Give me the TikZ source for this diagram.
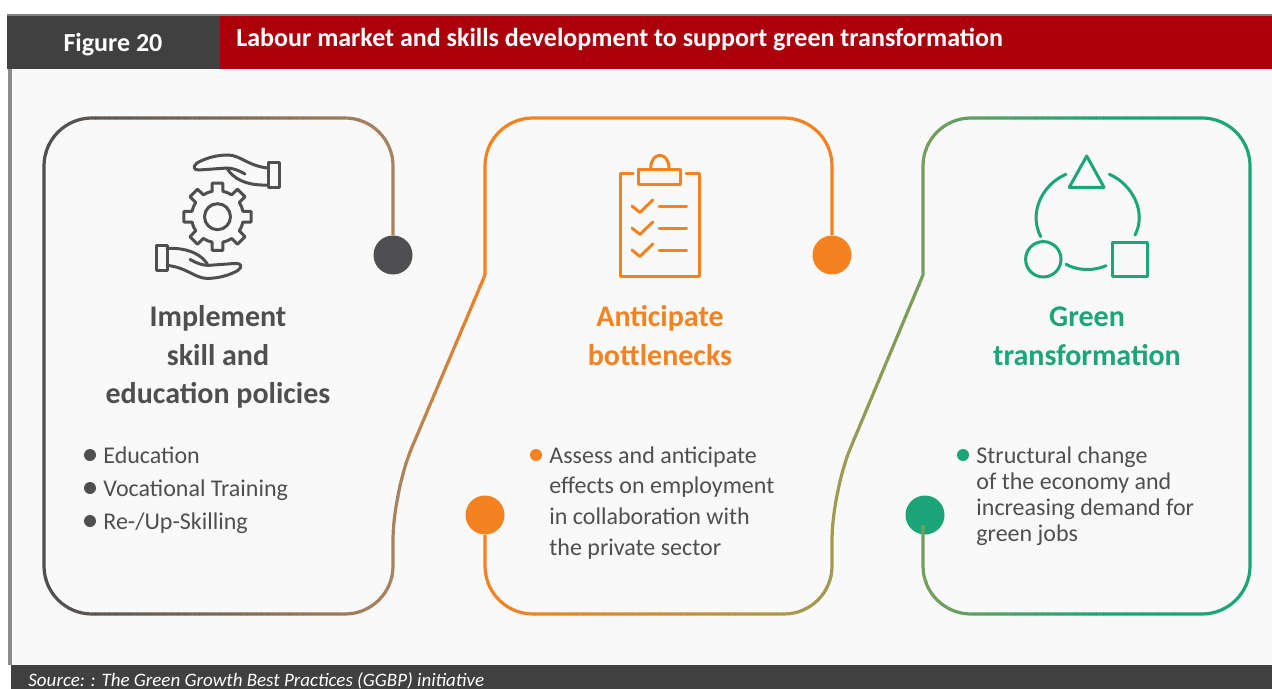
\documentclass[tikz,border=0pt]{standalone}
\usepackage{fontspec}
\setmainfont{Carlito}
\definecolor{headdark}{HTML}{404040}
\definecolor{headred}{HTML}{AB000C}
\definecolor{paper}{HTML}{F9F9F9}
\definecolor{slate}{HTML}{4F4F51}
\definecolor{tan}{HTML}{A8835F}
\definecolor{carrot}{HTML}{F58220}
\definecolor{olive}{HTML}{A29A50}
\definecolor{leaf}{HTML}{1BA578}
\tikzset{
  frameline/.style={line width=1.6pt},
  iconline/.style={line width=1.5pt,line join=round,line cap=round},
  dot/.style={circle,fill=#1,minimum size=19.5pt,inner sep=0pt},
  bullet/.style={circle,fill=#1,minimum size=6pt,inner sep=0pt},
  heading/.style={anchor=base,font=\fontsize{15}{15}\selectfont\bfseries,text=#1},
  itemtext/.style={anchor=base west,font=\fontsize{12}{12}\selectfont,text=#1},
}
\newcommand{\fadeline}[5]{%
  \foreach \s in {0,...,#5} {
    \pgfmathsetmacro{\p}{100*\s/#5}
    \pgfmathsetmacro{\xa}{#1+(#2-#1)/(#5+1)*\s}
    \pgfmathsetmacro{\xb}{#1+(#2-#1)/(#5+1)*(\s+1)+0.4}
    \begin{scope}
      \clip (\xa,100) rectangle (\xb,630);
      \draw[frameline,color=#4!\p!#3] \framepath;
    \end{scope}
  }}
\begin{document}
\begin{tikzpicture}
        [x=0.5pt,y=-0.5pt]
        \useasboundingbox (0,0) rectangle (1272,689);

        \fill[paper] (8,69) rectangle (1272,665);
        \fill[gray] (7,14) rectangle (1272,17);
        \fill[gray!90] (8,69) rectangle (12,665);
        \fill[headdark] (7,16) rectangle (220,69);
        \fill[headred] (220,16) rectangle (1272,69);
        \fill[headdark] (11,665) rectangle (1272,689);

        \node[anchor=base,text=white,font=\fontsize{13}{13}\selectfont\bfseries] (figno) at (113,52) {Figure 20};
        \node[anchor=base west,inner sep=0pt,text=white,font=\fontsize{13}{13}\selectfont\bfseries] (title) at (236,47) {Labour market and skills development to support green transformation};
        \node[anchor=base west,inner sep=0pt,text=white,font=\fontsize{9.5}{9.5}\selectfont\itshape] (source) at (28,686) {Source: : The Green Growth Best Practices (GGBP) initiative};

        \node[dot=slate] (dotA) at (393,255) {};
        \node[dot=carrot] (dotB) at (832,255) {};
        \node[dot=carrot] (dotC) at (485,515) {};
        \node[dot=leaf] (dotD) at (925,515) {};

        \def\framepath{(dotA) [rounded corners=24pt] -- (393,118) -- (44,118) -- (44,614) -- (393,614) -- (393,492) [sharp corners] -- (485,275)}
        \fadeline{40}{393}{slate}{tan}{50}
        \fadeline{393}{490}{tan}{carrot}{16}

        \draw[frameline,carrot,rounded corners=24pt] (dotB) -- (832,118) -- (485,118) -- (485,275);

        \def\framepath{(dotC) [rounded corners=24pt] -- (485,614) -- (832,614) -- (832,492) [sharp corners] -- (923,275) [rounded corners=24pt] -- (923,118) -- (1250,118) -- (1250,614) -- (923,614) -- (923,525)}
        \fadeline{480}{832}{carrot}{olive}{50}
        \fadeline{832}{1110}{olive}{leaf}{40}
        \fadeline{1110}{1255}{leaf}{leaf}{8}

        \node[heading=slate] (implA) at (218,327) {Implement};
        \node[heading=slate] (implB) at (218,365) {skill and};
        \node[heading=slate] (implC) at (218,403) {education policies};
        \node[heading=carrot] (antiA) at (660,327) {Anticipate};
        \node[heading=carrot] (antiB) at (660,365) {bottlenecks};
        \node[heading=leaf] (greenA) at (1087,327) {Green};
        \node[heading=leaf] (greenB) at (1087,365) {transformation};

        \node[bullet=slate] (bulA) at (90,455) {};
        \node[bullet=slate] (bulB) at (90,488) {};
        \node[bullet=slate] (bulC) at (90,521) {};
        \node[itemtext=slate,inner sep=0pt] (itemA) at (103,463) {Education};
        \node[itemtext=slate,inner sep=0pt] (itemB) at (103,496) {Vocational Training};
        \node[itemtext=slate,inner sep=0pt] (itemC) at (103,529) {Re-/Up-Skilling};

        \node[bullet=carrot] (bulD) at (536,455) {};
        \node[itemtext=slate,inner sep=0pt] (itemD) at (549,463) {Assess and anticipate};
        \node[itemtext=slate,inner sep=0pt] (itemE) at (549,493) {effects on employment};
        \node[itemtext=slate,inner sep=0pt] (itemF) at (549,524) {in collaboration with};
        \node[itemtext=slate,inner sep=0pt] (itemG) at (549,555) {the private sector};

        \node[bullet=leaf] (bulE) at (963,455) {};
        \node[itemtext=slate,inner sep=0pt] (itemH) at (976,463) {Structural change};
        \node[itemtext=slate,inner sep=0pt] (itemI) at (976,489) {of the economy and};
        \node[itemtext=slate,inner sep=0pt] (itemJ) at (976,515) {increasing demand for};
        \node[itemtext=slate,inner sep=0pt] (itemK) at (976,541) {green jobs};

        \coordinate (gear) at (217.5,216.7);
        \foreach \a in {0,45,...,315} {
          \draw[iconline,slate,shift={(gear)}] (\a-12:26) -- (\a-9:34) -- (\a+9:34) -- (\a+12:26) arc (\a+12:\a+33:26);
        }
        \draw[iconline,slate] (gear) circle (13);
        \foreach \r in {0,180} {
          \begin{scope}[rotate around={\r:(gear)}]
            \draw[iconline,slate] (268,163) rectangle (279,188);
            \draw[iconline,slate] (268,168) .. controls (248,166) and (240,155) .. (228,155)
              .. controls (215,155) and (204,159) .. (197,163)
              .. controls (192,167) and (194,170) .. (199,170) -- (227,168)
              .. controls (233,168) and (240,171) .. (245,174);
            \draw[iconline,slate] (227,168) .. controls (232,178) and (246,186) .. (268,185);
          \end{scope}
        }

        \draw[iconline,carrot] (633,173.5) -- (620,173.5) -- (620,277) -- (699,277) -- (699,173.5) -- (686,173.5);
        \draw[iconline,carrot] (638.3,169.3) rectangle (680.7,184.3);
        \draw[iconline,carrot] (650.7,168.3) .. controls (650.7,151) and (669,151) .. (669,168.3);
        \foreach \y in {207,229,251} {
          \draw[iconline,carrot] (632,\y-1) -- (640,\y+5.5) -- (652.7,\y-7);
          \draw[iconline,carrot] (659,\y) -- (686.7,\y);
        }

        \draw[iconline,leaf] (1086.7,156) -- (1069.3,187.3) -- (1104,187.3) -- cycle;
        \node[circle,draw=leaf,line width=1.5pt,minimum size=17.7pt,inner sep=0pt] (shapeA) at (1043.3,259.3) {};
        \draw[iconline,leaf] (1112.3,242.3) rectangle (1147.3,276.7);
        \draw[iconline,leaf] (1066,174.3) .. controls (1043,184) and (1028,212) .. (1040.7,236.7);
        \draw[iconline,leaf] (1109.3,174.3) .. controls (1132,184) and (1147,212) .. (1135,235);
        \draw[iconline,leaf] (1066,264.3) .. controls (1078,271) and (1094,271) .. (1106,265.7);
\end{tikzpicture}
\end{document}
